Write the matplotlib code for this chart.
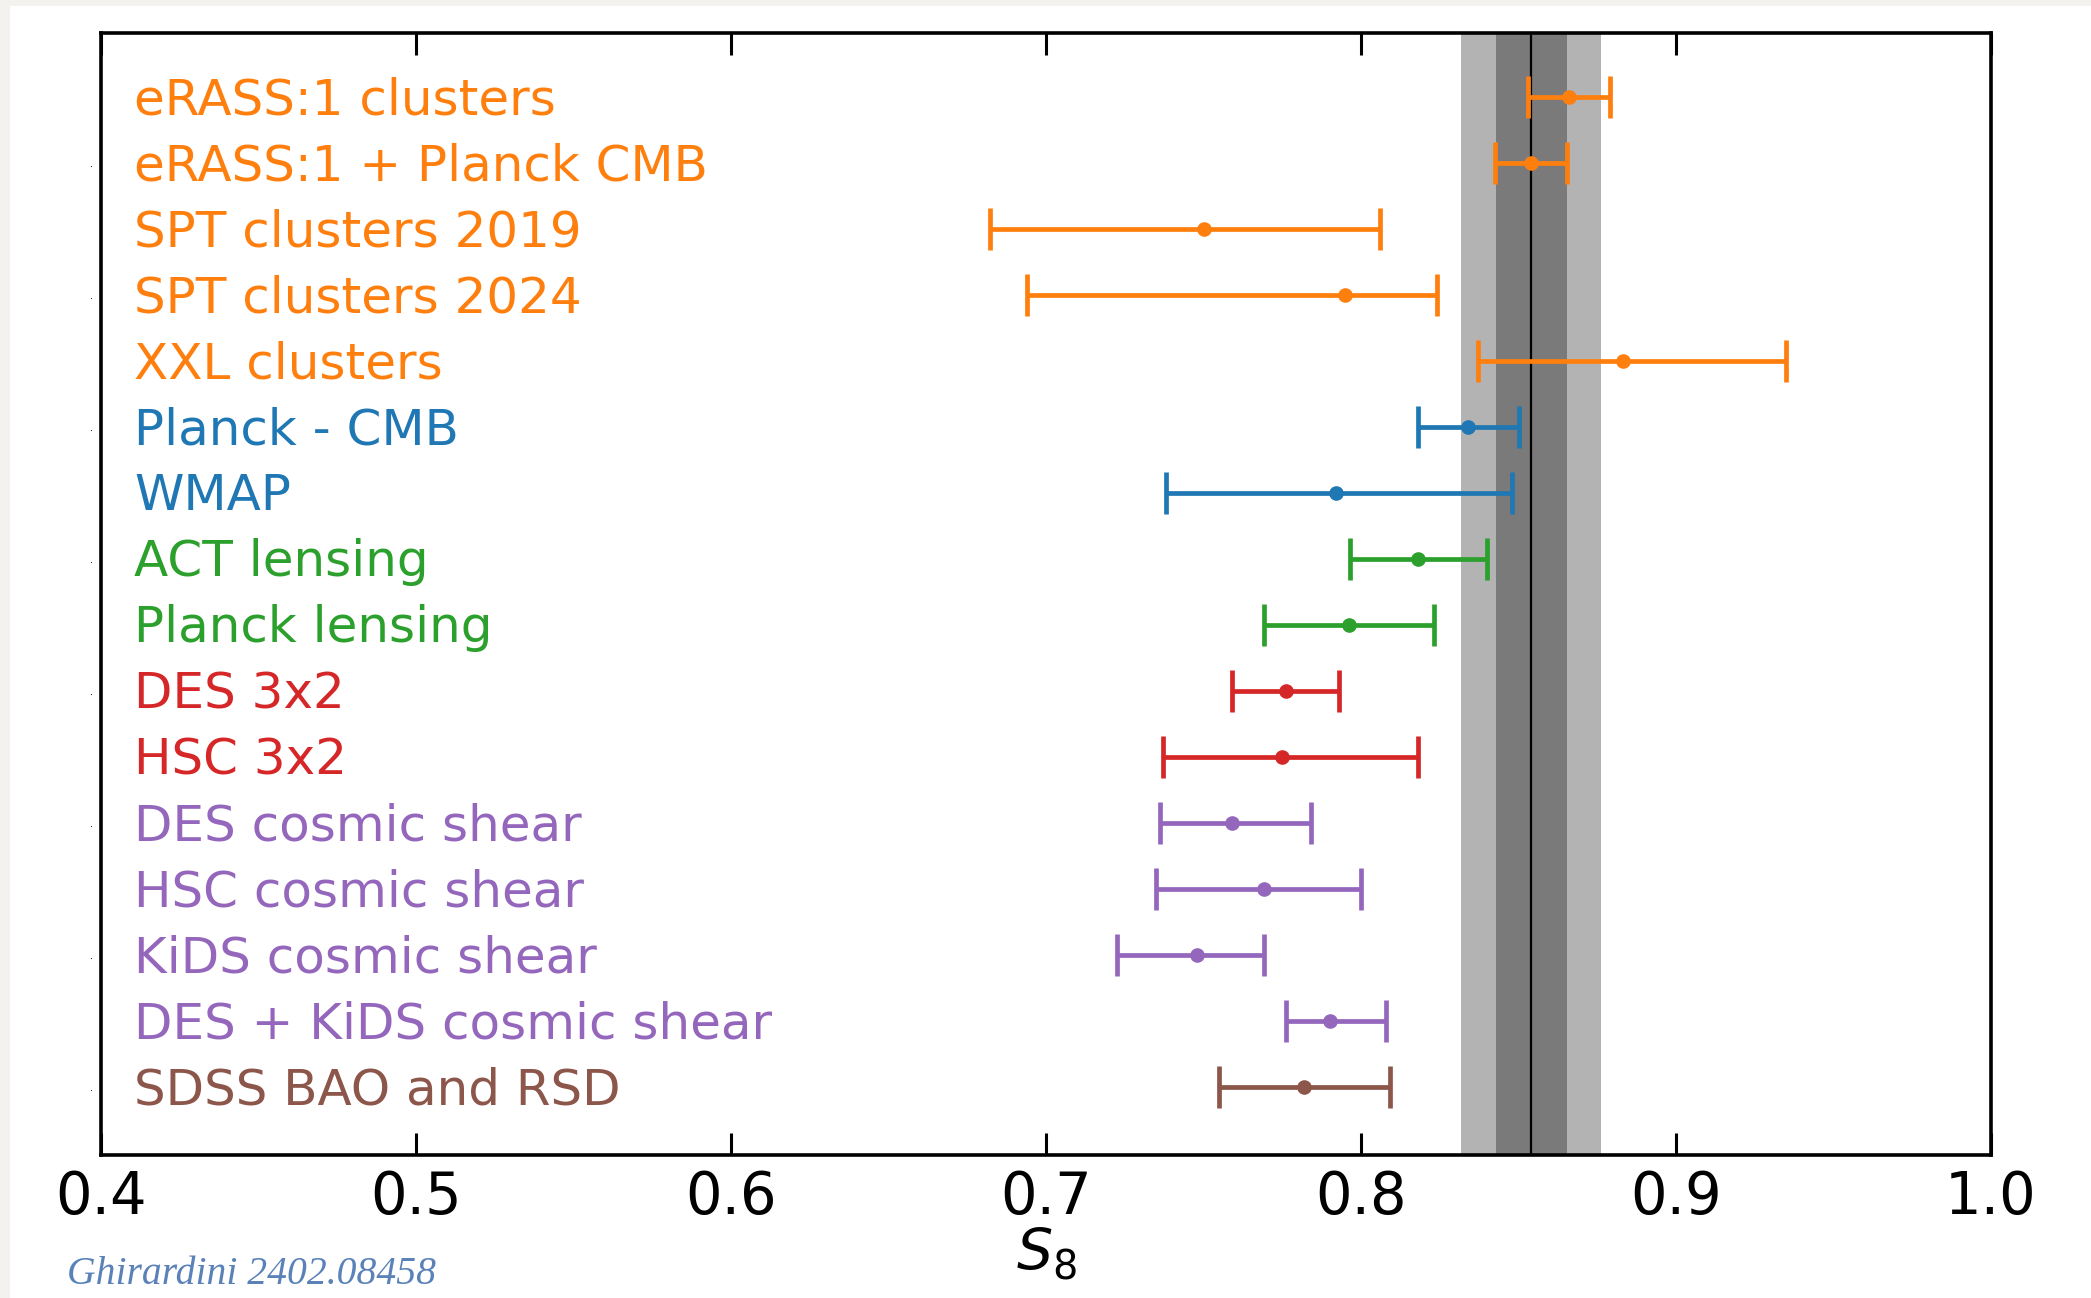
import matplotlib.pyplot as plt
from matplotlib.patches import Rectangle

# S8 constraints, top to bottom
labels = ['eRASS:1 clusters', 'eRASS:1 + Planck CMB', 'SPT clusters 2019',
          'SPT clusters 2024', 'XXL clusters', 'Planck - CMB', 'WMAP',
          'ACT lensing', 'Planck lensing', 'DES 3x2', 'HSC 3x2',
          'DES cosmic shear', 'HSC cosmic shear', 'KiDS cosmic shear',
          'DES + KiDS cosmic shear', 'SDSS BAO and RSD']
s8 = [0.866, 0.854, 0.750, 0.795, 0.883, 0.834, 0.792, 0.818, 0.796,
      0.776, 0.775, 0.759, 0.769, 0.748, 0.790, 0.782]
err_lo = [0.013, 0.0115, 0.068, 0.101, 0.046, 0.016, 0.054, 0.0215, 0.027,
          0.017, 0.038, 0.023, 0.034, 0.0255, 0.014, 0.027]
err_hi = [0.013, 0.0115, 0.056, 0.029, 0.052, 0.016, 0.056, 0.022, 0.027,
          0.017, 0.043, 0.025, 0.031, 0.021, 0.018, 0.027]
colors = ['#ff7f0e'] * 5 + ['#1f77b4'] * 2 + ['#2ca02c'] * 2 + \
         ['#d62728'] * 2 + ['#9467bd'] * 4 + ['#8c564b']

# reference band (eRASS:1 + Planck)
band_center = 0.854
band_1sig = 0.0113
band_2sig = 0.0223

fig = plt.figure(figsize=(20.91, 12.98), dpi=100)
fig.patch.set_facecolor('#f3f2ee')
fig.patches.append(Rectangle((0.005, 0.0), 0.995, 0.995, transform=fig.transFigure,
                             facecolor='white', edgecolor='none', zorder=-10))
ax = fig.add_axes([0.0485, 0.1103, 0.9037, 0.8641])
ax.set_zorder(5)

n = len(labels)
ys = [n - 1 - i for i in range(n)]

ax.axvspan(band_center - band_2sig, band_center + band_2sig, color='#b3b3b3', lw=0, zorder=1)
ax.axvspan(band_center - band_1sig, band_center + band_1sig, color='#7a7a7a', lw=0, zorder=1)
ax.axvline(band_center, color='black', lw=1.6, zorder=2)

for i in range(n):
    ax.errorbar(s8[i], ys[i], xerr=[[err_lo[i]], [err_hi[i]]], fmt='o',
                color=colors[i], ms=9.5, lw=3.4, capsize=15, capthick=3.4, zorder=3)
    ax.text(0.4105, ys[i] - 0.05, labels[i], color=colors[i], fontsize=36,
            va='center', ha='left')

ax.set_xlim(0.4, 1.0)
ax.set_ylim(-1.03, 15.97)
ax.set_xticks([0.4, 0.5, 0.6, 0.7, 0.8, 0.9, 1.0])
ax.tick_params(axis='x', direction='in', top=True, length=16, width=2.2,
               labelsize=41.5, pad=10)
ax.set_yticks([0, 2, 4, 6, 8, 10, 12, 14])
ax.set_yticklabels(['.'] * 8)
ax.tick_params(axis='y', length=0, labelsize=7, pad=6)
for sp in ax.spines.values():
    sp.set_linewidth(2.6)
ax.set_xlabel('$S_8$', fontsize=41, labelpad=0)

fig.text(0.032, 0.011, 'Ghirardini 2402.08458', color='#5b82b8', fontsize=28.5,
         family='Liberation Serif', style='italic')

fig.savefig('out.png', dpi=100, facecolor=fig.get_facecolor())
